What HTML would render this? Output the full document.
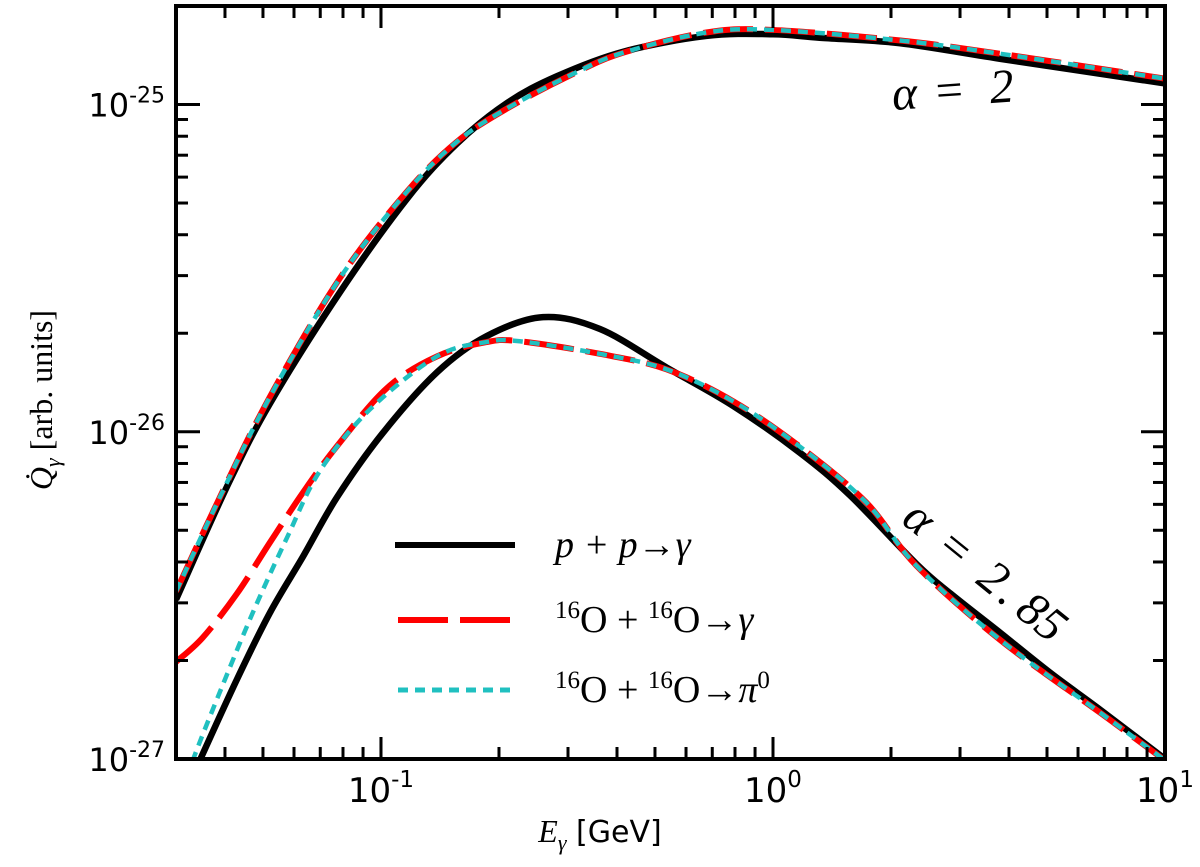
<!DOCTYPE html>
<html><head><meta charset="utf-8"><style>
body{margin:0;background:#fff;}
svg{display:block;}
text{font-family:"DejaVu Sans","Liberation Sans",sans-serif;fill:#000;}
.serif{font-family:"Liberation Serif","DejaVu Serif",serif;}
</style></head><body>
<svg id="chart" width="1200" height="867" viewBox="0 0 1200 867">
<g id="plot"></g>
<g id="axes"></g>
<g><text class="serif" x="0" y="0" font-size="48" font-style="italic" transform="translate(893 110) rotate(-4)"><tspan x="0">α</tspan><tspan x="44" font-style="normal">=</tspan><tspan x="98">2</tspan></text></g>
<g><text class="serif" x="0" y="0" font-size="48" font-style="italic" transform="translate(900 522) rotate(39)"><tspan x="0">α</tspan><tspan x="46" font-style="normal">=</tspan><tspan x="96">2</tspan><tspan x="124">.</tspan><tspan x="146">85</tspan></text></g>
<g>
<line x1="395" y1="545" x2="515" y2="545" stroke="#000" stroke-width="6"/>
<text class="serif" x="555" y="557" font-size="38" font-style="italic">p + p→γ</text>
<line x1="398" y1="620" x2="512" y2="620" stroke="#f00" stroke-width="6" stroke-dasharray="50,12"/>
<text class="serif" x="555" y="632" font-size="38"><tspan font-size="25" dy="-14">16</tspan><tspan dy="14">O + </tspan><tspan font-size="25" dy="-14">16</tspan><tspan dy="14">O→</tspan><tspan font-style="italic">γ</tspan></text>
<line x1="398" y1="690" x2="512" y2="690" stroke="#20c0c0" stroke-width="5" stroke-dasharray="10,7"/>
<text class="serif" x="555" y="702" font-size="38"><tspan font-size="25" dy="-14">16</tspan><tspan dy="14">O + </tspan><tspan font-size="25" dy="-14">16</tspan><tspan dy="14">O→</tspan><tspan font-style="italic">π</tspan><tspan font-size="25" dy="-14">0</tspan></text>
</g>
<g><text x="600" y="842" font-size="30" text-anchor="middle"><tspan class="serif" font-style="italic" font-size="32">E</tspan><tspan font-size="22" dy="8" class="serif" font-style="italic">γ</tspan><tspan dy="-8"> [GeV]</tspan></text></g>
<g><text class="serif" x="0" y="0" font-size="32" text-anchor="middle" transform="translate(52 400) rotate(-90)"><tspan font-style="italic">Q̇</tspan><tspan font-size="22" dy="8" font-style="italic">γ</tspan><tspan dy="-8"> [arb. units]</tspan></text></g>
</svg>
<script>
const eUpperPP=[0.030,0.0405,0.0521,0.0786,0.1165,0.1563,0.2096,0.281,0.415,0.676,1,1.315,2.1,3.79,10];
const qUpperPP=[3.07e-27,6.81e-27,1.22e-26,2.67e-26,5.15e-26,7.6e-26,1.01e-25,1.22e-25,1.45e-25,1.62e-25,1.64e-25,1.60e-25,1.54e-25,1.38e-25,1.16e-25];
const eUpperOO=[0.030,0.0388,0.0521,0.0786,0.1165,0.1563,0.2096,0.309,0.415,0.676,1,2.1,3.79,10];
const qUpperOO=[3.25e-27,6.3e-27,1.28e-26,2.95e-26,5.42e-26,7.7e-26,9.72e-26,1.24e-25,1.44e-25,1.66e-25,1.69e-25,1.57e-25,1.43e-25,1.2e-25];
const eLowerPP=[0.030,0.0345,0.0429,0.0521,0.0633,0.0772,0.101,0.139,0.186,0.259,0.362,0.536,0.791,1.168,1.57,2.32,2.84,3.80,5.11,6.86,10];
const qLowerPP=[6.8e-28,0.99e-27,1.75e-27,2.80e-27,4.16e-27,6.3e-27,9.9e-27,1.52e-26,1.96e-26,2.24e-26,2.06e-26,1.57e-26,1.20e-26,8.65e-27,6.4e-27,3.95e-27,3.2e-27,2.43e-27,1.83e-27,1.41e-27,1.0e-27];
const eLowerOO=[0.030,0.0351,0.0429,0.0521,0.0633,0.0772,0.1036,0.139,0.186,0.226,0.362,0.536,0.791,1.168,1.73,2.32,3.80,6.86,10];
const qLowerOOg=[1.98e-27,2.35e-27,3.2e-27,4.59e-27,6.53e-27,9.03e-27,1.36e-26,1.70e-26,1.88e-26,1.89e-26,1.73e-26,1.55e-26,1.24e-26,9.03e-27,6.08e-27,3.9e-27,2.31e-27,1.38e-27,0.99e-27];
const eLowerPi=[0.030,0.0331,0.0388,0.0471,0.0576,0.0699,0.0937,0.139,0.186,0.226,0.362,0.536,0.791,1.168,1.73,2.32,3.80,6.86,10];
const qLowerPi=[7.0e-28,0.99e-27,1.6e-27,2.80e-27,4.75e-27,7.6e-27,1.17e-26,1.70e-26,1.88e-26,1.89e-26,1.73e-26,1.55e-26,1.24e-26,9.03e-27,6.08e-27,3.9e-27,2.31e-27,1.38e-27,0.99e-27];
const xTickLabels=["10","10","10"], xTickExp=["-1","0","1"];
const yTickExp=["-27","-26","-25"];

const L=176,R=1165,T=6,B=759;
const xMin=Math.log10(0.03),xMax=1,yMin=-27,yMax=Math.log10(2e-25);
const X=e=>L+(Math.log10(e)-xMin)/(xMax-xMin)*(R-L);
const Y=q=>B-(Math.log10(q)-yMin)/(yMax-yMin)*(B-T);
const NS="http://www.w3.org/2000/svg";
const plot=document.getElementById('plot'),axes=document.getElementById('axes');
function mk(tag,attrs,parent){const el=document.createElementNS(NS,tag);for(const k in attrs)el.setAttribute(k,attrs[k]);parent.appendChild(el);return el;}
const defs=mk('defs',{},plot);const cp=mk('clipPath',{id:'clip'},defs);mk('rect',{x:L,y:T,width:R-L,height:B-T},cp);
function pathD(es,qs){const p=es.map((e,i)=>[X(e),Y(qs[i])]);let d=`M${p[0][0]},${p[0][1]}`;
for(let i=0;i<p.length-1;i++){const p0=p[i-1]||p[i],p1=p[i],p2=p[i+1],p3=p[i+2]||p2;
d+=` C${p1[0]+(p2[0]-p0[0])/6},${p1[1]+(p2[1]-p0[1])/6} ${p2[0]-(p3[0]-p1[0])/6},${p2[1]-(p3[1]-p1[1])/6} ${p2[0]},${p2[1]}`;}return d;}
function curve(es,qs,st,name){const el=mk('path',Object.assign({d:pathD(es,qs),fill:'none','clip-path':'url(#clip)','stroke-linecap':'butt','stroke-linejoin':'round'},st),plot);

}
const blk={stroke:'#000','stroke-width':6.5},red={stroke:'#f00','stroke-width':6,'stroke-dasharray':'50,12'},cy={stroke:'#20c0c0','stroke-width':4.5,'stroke-dasharray':'10,7'};
curve(eUpperPP,qUpperPP,blk,'pp-alpha2-line');
curve(eLowerPP,qLowerPP,blk,'pp-alpha285-line');
curve(eUpperOO,qUpperOO,red,'OO-gamma-alpha2-line');
curve(eLowerOO,qLowerOOg,red,'OO-gamma-alpha285-line');
curve(eUpperOO,qUpperOO,cy,'OO-pi0-alpha2-line');
curve(eLowerPi,qLowerPi,cy,'OO-pi0-alpha285-line');
const fr=mk('rect',{x:L,y:T,width:R-L,height:B-T,fill:'none',stroke:'#000','stroke-width':4},axes);


for(let d=-2;d<=0;d++)for(let m=1;m<=9;m++){const e=m*Math.pow(10,d);if(e<0.03||e>10)continue;const x=X(e),len=m===1?22:12;
mk('line',{x1:x,y1:B,x2:x,y2:B-len,stroke:'#000','stroke-width':3},axes);mk('line',{x1:x,y1:T,x2:x,y2:T+len,stroke:'#000','stroke-width':3},axes);}
[0.1,1,10].forEach((e,i)=>{const x=X(e);mk('line',{x1:x,y1:B,x2:x,y2:B-22,stroke:'#000','stroke-width':3},axes);mk('line',{x1:x,y1:T,x2:x,y2:T+22,stroke:'#000','stroke-width':3},axes);
const t=mk('text',{x:x,y:802,'font-size':34,'text-anchor':'middle'},axes);


t.innerHTML=`${xTickLabels[i]}<tspan font-size="23" dy="-15">${xTickExp[i]}</tspan>`;});
for(let d=-27;d<=-25;d++)for(let m=1;m<=9;m++){const q=m*Math.pow(10,d);if(q>2e-25)continue;const y=Y(q),len=m===1?24:12;
mk('line',{x1:L,y1:y,x2:L+len,y2:y,stroke:'#000','stroke-width':3},axes);mk('line',{x1:R,y1:y,x2:R-len,y2:y,stroke:'#000','stroke-width':3},axes);}
yTickExp.forEach(ex=>{const y=Y(Math.pow(10,+ex));
const t=mk('text',{x:165,y:y+12,'font-size':32,'text-anchor':'end'},axes);


t.innerHTML=`10<tspan font-size="22" dy="-14">${ex}</tspan>`;});
</script>
</body></html>
